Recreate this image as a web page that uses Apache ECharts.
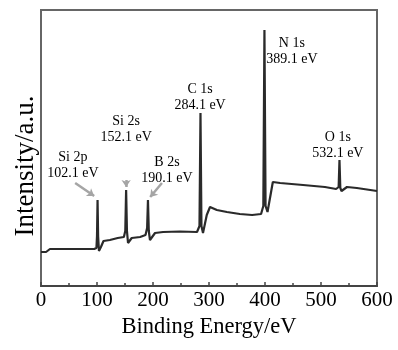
<!DOCTYPE html>
<html>
<head>
<meta charset="utf-8">
<script src="https://cdn.jsdelivr.net/npm/echarts@6/dist/echarts.min.js"></script>
<style>html,body{margin:0;padding:0;background:#fff;}#c{width:398px;height:350px;}</style>
</head>
<body>
<div id="c"></div>
<script>
// Binding energy (eV)
var energy = [0, 9, 16, 52, 95, 99, 100, 101, 102, 103.5, 107, 111.6, 123, 137, 148, 150.5, 152, 153.5, 155.4, 162, 177, 186.6, 189.5, 191, 192.5, 194.6, 203.6, 218, 248, 278.6, 283, 284.8, 286.5, 289.3, 296, 301.8, 314, 332, 355, 377, 393, 397, 399, 401, 404.5, 414, 427, 468, 507, 527, 531.5, 533, 534.5, 536.6, 546.4, 564, 600];
// Intensity (a.u.)
var intensity = [34, 34, 37, 37, 37, 38, 50, 86, 50, 35, 39, 45, 46, 48, 49, 55, 96, 55, 43, 48, 49, 51, 58, 86, 55, 46, 53, 54, 54.5, 54, 60, 173, 60, 53, 71, 79, 76, 74, 72, 71, 72, 80, 256, 80, 74, 104, 103, 101, 99, 97, 99, 126, 98, 95, 99, 98, 95];
// Peak annotations
var peakNames = ['Si 2p', 'Si 2s', 'B 2s', 'C 1s', 'N 1s', 'O 1s'];
var peakEnergies = ['102.1 eV', '152.1 eV', '190.1 eV', '284.1 eV', '389.1 eV', '532.1 eV'];
// x-axis ticks
var xTicks = [0, 100, 200, 300, 400, 500, 600];

// label anchor positions (data units)
var labelPos = [[57, 121], [152, 157], [225, 116], [284, 189], [448, 235], [530, 141]];

var chart = echarts.init(document.getElementById('c'), null, {renderer: 'canvas'});
var serif = '"Liberation Serif", "Times New Roman", serif';
var lineData = energy.map(function (e, i) { return [e, intensity[i]]; });
var labelData = labelPos.map(function (p, i) {
  return {value: [p[0], p[1]], name: peakNames[i] + '\n' + peakEnergies[i]};
});

chart.setOption({
  backgroundColor: '#fff',
  animation: false,
  grid: {left: 41, right: 21, top: 10, bottom: 64, show: true, borderColor: '#666', borderWidth: 2},
  xAxis: {
    type: 'value', min: xTicks[0], max: xTicks[xTicks.length - 1], interval: 100,
    name: 'Binding Energy/eV', nameLocation: 'middle', nameGap: 23,
    nameTextStyle: {fontFamily: serif, fontSize: 22.5, color: '#000'},
    axisLine: {show: true, lineStyle: {color: '#444', width: 2}},
    axisTick: {show: true, inside: true, length: 4, lineStyle: {color: '#444', width: 1.5}},
    minorTick: {show: true, splitNumber: 2, length: 3, lineStyle: {color: '#444', width: 1.5}},
    axisLabel: {fontFamily: serif, fontSize: 21, color: '#000', margin: 4},
    splitLine: {show: false}
  },
  yAxis: {
    type: 'value', min: 0, max: 276,
    axisLine: {show: false}, axisTick: {show: false}, axisLabel: {show: false}, splitLine: {show: false}
  },
  graphic: [{
    type: 'text', x: 26, y: 166, rotation: Math.PI / 2,
    style: {text: 'Intensity/a.u.', font: '27px ' + serif, fill: '#000', textAlign: 'center', textVerticalAlign: 'middle'}
  }],
  series: [{
    type: 'line', data: lineData, showSymbol: false, symbol: 'none',
    lineStyle: {color: '#2a2a2a', width: 2.2},
    markLine: {
      silent: true, symbol: ['none', 'arrow'], symbolSize: 7,
      lineStyle: {color: '#a5a5a5', width: 2.5, type: 'solid'},
      label: {show: false},
      data: [
        [{coord: [61, 103]}, {coord: [95, 90]}],
        [{coord: [152, 106]}, {coord: [152, 99]}],
        [{coord: [216, 103]}, {coord: [195, 89]}]
      ]
    }
  }, {
    type: 'scatter', data: labelData, symbolSize: 0, silent: true,
    itemStyle: {opacity: 1},
    label: {
      show: true, position: 'inside', formatter: function (p) { return p.name; },
      fontFamily: serif, fontSize: 14, lineHeight: 16, color: '#000'
    }
  }]
});
</script>
</body>
</html>
